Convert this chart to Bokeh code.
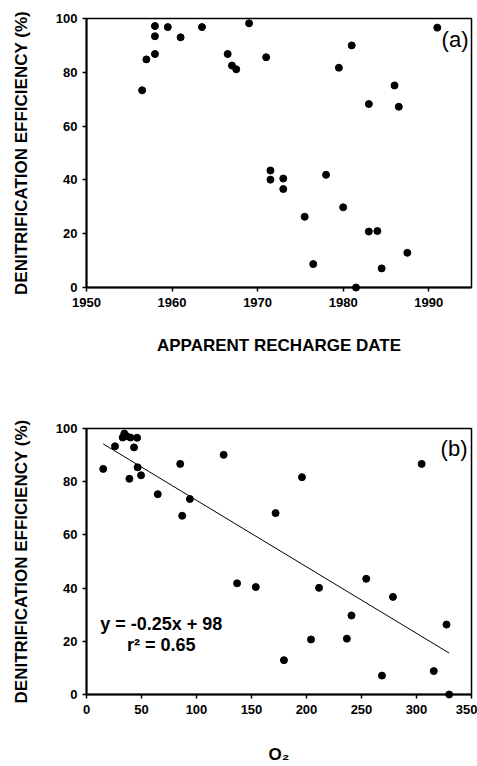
from bokeh.plotting import figure
from bokeh.models import FixedTicker, Label, Range1d
from bokeh.layouts import column
from bokeh.embed import file_html
from bokeh.resources import INLINE

# Panel (a): apparent recharge date vs denitrification efficiency
year = [1956.5, 1957.0, 1958.0, 1958.0, 1958.0, 1959.5, 1961.0, 1963.5, 1966.5, 1967.0,
        1967.5, 1969.0, 1971.0, 1971.5, 1971.5, 1973.0, 1973.0, 1975.5, 1976.5, 1978.0,
        1979.5, 1980.0, 1981.0, 1981.5, 1983.0, 1983.0, 1984.0, 1984.5, 1986.0, 1986.5,
        1987.5, 1991.0]
eff_a = [73.3, 84.8, 97.2, 93.4, 86.8, 96.8, 93.0, 96.8, 86.8, 82.5,
         81.1, 98.2, 85.6, 43.5, 40.1, 40.5, 36.6, 26.3, 8.7, 41.9,
         81.7, 29.8, 90.0, 0.0, 68.2, 20.8, 21.0, 7.1, 75.1, 67.2,
         12.9, 96.6]

# Panel (b): O2 vs denitrification efficiency
o2 = [15.2, 25.9, 32.9, 34.4, 36.2, 39.9, 46.0, 39.0, 43.2, 46.5,
      49.6, 64.8, 85.2, 87.0, 94.0, 124.7, 136.9, 153.9, 171.9, 179.5,
      195.9, 204.1, 211.4, 236.7, 240.9, 254.3, 268.6, 278.6, 304.7, 315.7,
      327.3, 329.7]
eff_b = [84.8, 93.3, 96.6, 98.1, 97.2, 96.6, 96.5, 81.1, 92.9, 85.4,
         82.4, 75.3, 86.7, 67.2, 73.5, 90.1, 41.8, 40.4, 68.2, 12.9,
         81.7, 20.7, 40.1, 21.0, 29.7, 43.5, 7.1, 36.7, 86.7, 8.8,
         26.3, 0.0]

# regression
slope = -0.25
intercept = 98
eq_text = "y = -0.25x + 98"
r2_text = "r\u00b2 = 0.65"

xticks_a = [1950, 1960, 1970, 1980, 1990]
xticks_b = [0, 50, 100, 150, 200, 250, 300, 350]
yticks = [0, 20, 40, 60, 80, 100]

FONT = "Liberation Sans"
YLABEL = "DENITRIFICATION EFFICIENCY (%)"


def style(p, xticks):
    p.toolbar_location = None
    p.grid.visible = False
    p.outline_line_color = "black"
    p.outline_line_width = 1.5
    p.background_fill_color = "white"
    p.border_fill_color = "white"
    for ax in (p.xaxis[0], p.yaxis[0]):
        ax.axis_line_width = 2
        ax.axis_line_color = "black"
        ax.major_tick_line_width = 1.5
        ax.major_tick_in = 0
        ax.major_tick_out = 4
        ax.minor_tick_in = 0
        ax.minor_tick_out = 0
        ax.major_label_text_font = FONT
        ax.major_label_text_font_style = "bold"
        ax.major_label_text_font_size = "13px"
        ax.major_label_text_color = "black"
        ax.axis_label_text_font = FONT
        ax.axis_label_text_font_style = "bold"
        ax.axis_label_text_font_size = "17px"
        ax.axis_label_text_color = "black"
    p.xaxis[0].ticker = FixedTicker(ticks=xticks)
    p.yaxis[0].ticker = FixedTicker(ticks=yticks)
    p.xaxis[0].major_label_standoff = 6
    p.yaxis[0].major_label_standoff = 5
    p.yaxis[0].axis_label_standoff = 22


p1 = figure(width=477, height=408, output_backend="svg", toolbar_location=None,
            x_range=Range1d(1950, 1995), y_range=Range1d(0, 100),
            min_border_left=86, min_border_right=6, min_border_top=18, min_border_bottom=121)
style(p1, xticks_a)
p1.xaxis[0].axis_label = "APPARENT RECHARGE DATE"
p1.xaxis[0].axis_label_standoff = 26
p1.yaxis[0].axis_label = YLABEL
p1.scatter(year, eff_a, size=7, color="black", level="overlay")
p1.add_layout(Label(x=1995, y=100, x_offset=-3, y_offset=-8, text="(a)",
                    text_align="right", text_baseline="top", text_font=FONT,
                    text_font_size="22px", text_color="black"))

p2 = figure(width=477, height=358, output_backend="svg", toolbar_location=None,
            x_range=Range1d(0, 350), y_range=Range1d(0, 100),
            min_border_left=86, min_border_right=6, min_border_top=20, min_border_bottom=70)
style(p2, xticks_b)
p2.xaxis[0].axis_label = "O\u2082"
p2.xaxis[0].axis_label_standoff = 28
p2.yaxis[0].axis_label = YLABEL
xl = [min(o2), max(o2)]
p2.line(xl, [slope * v + intercept for v in xl], line_color="black", line_width=1)
p2.scatter(o2, eff_b, size=7, color="black", level="overlay")
p2.add_layout(Label(x=350, y=100, x_offset=-4, y_offset=-7, text="(b)",
                    text_align="right", text_baseline="top", text_font=FONT,
                    text_font_size="22px", text_color="black"))
p2.add_layout(Label(x=68, y=26.4, text=eq_text, text_align="center", text_baseline="middle",
                    text_font=FONT, text_font_style="bold", text_font_size="18px",
                    text_color="black"))
p2.add_layout(Label(x=68, y=18.5, text=r2_text, text_align="center", text_baseline="middle",
                    text_font=FONT, text_font_style="bold", text_font_size="18px",
                    text_color="black"))

layout = column(p1, p2)
open("out.html", "w").write(file_html(layout, INLINE))
